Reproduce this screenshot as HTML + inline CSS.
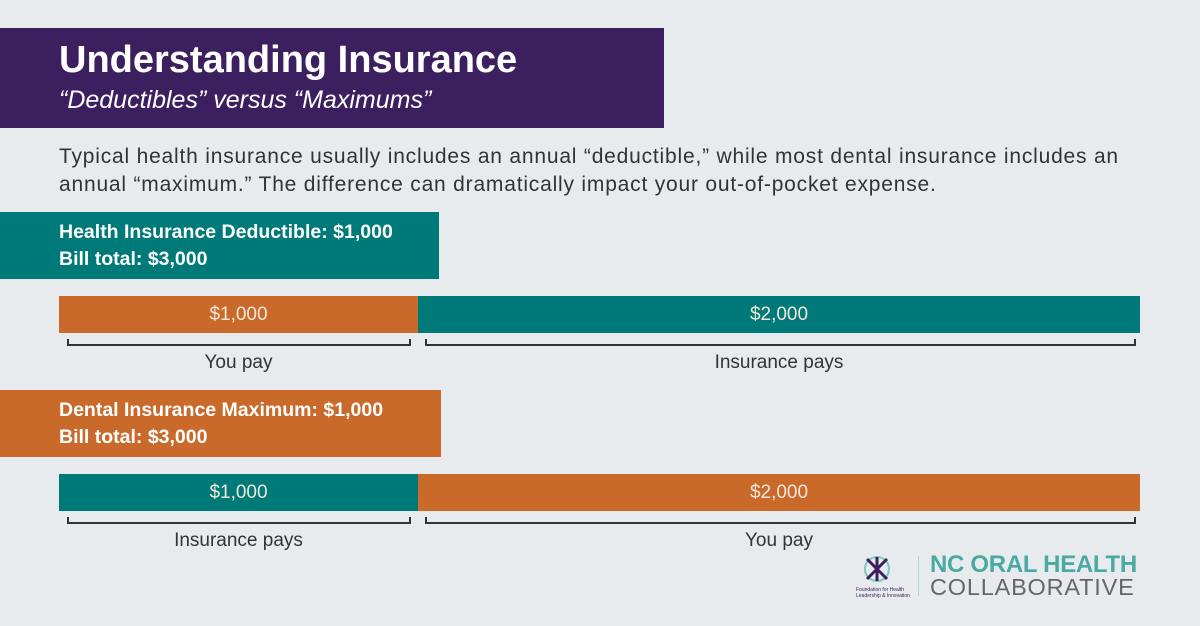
<!DOCTYPE html><html><head><style>
body{margin:0;width:1200px;height:626px;background:#e7ebee;position:relative;overflow:hidden;font-family:"Liberation Sans",sans-serif}
.a{position:absolute}
.bar{position:absolute;height:37px;color:#f3e6dc;font-size:19px;line-height:37px;text-align:center}
.br{position:absolute;height:5px;border:2px solid #333;border-top:none}
.lbl{position:absolute;font-size:19px;color:#333;text-align:center}
</style></head><body>
<div class="a" style="left:0;top:28px;width:664px;height:100px;background:#3b1f5f"></div>
<div class="a" style="left:59px;top:39px;font-size:38px;color:#fff;font-weight:bold">Understanding Insurance</div>
<div class="a" style="left:59px;top:86px;font-size:25px;color:#fff;font-style:italic">“Deductibles” versus “Maximums”</div>
<div class="a" style="left:59px;top:143px;font-size:21px;color:#333;line-height:28px;white-space:nowrap;letter-spacing:0.8px">Typical health insurance usually includes an annual “deductible,” while most dental insurance includes an<br>annual “maximum.” The difference can dramatically impact your out-of-pocket expense.</div>

<div class="a" style="left:0;top:212px;width:439px;height:67px;background:#007a78"></div>
<div class="a" style="left:59px;top:219px;font-size:19.5px;color:#fff;font-weight:bold;line-height:27px">Health Insurance Deductible: $1,000<br>Bill total: $3,000</div>
<div class="bar" style="left:59px;top:296px;width:359px;background:#c96a2b">$1,000</div>
<div class="bar" style="left:418px;top:296px;width:722px;background:#007a78">$2,000</div>
<div class="br" style="left:67px;top:339px;width:340px"></div>
<div class="br" style="left:425px;top:339px;width:707px"></div>
<div class="lbl" style="left:59px;width:359px;top:352px">You pay</div>
<div class="lbl" style="left:418px;width:722px;top:352px">Insurance pays</div>

<div class="a" style="left:0;top:390px;width:441px;height:67px;background:#c96a2b"></div>
<div class="a" style="left:59px;top:397px;font-size:19.5px;color:#fff;font-weight:bold;line-height:27px">Dental Insurance Maximum: $1,000<br>Bill total: $3,000</div>
<div class="bar" style="left:59px;top:474px;width:359px;background:#007a78">$1,000</div>
<div class="bar" style="left:418px;top:474px;width:722px;background:#c96a2b">$2,000</div>
<div class="br" style="left:67px;top:517px;width:340px"></div>
<div class="br" style="left:425px;top:517px;width:707px"></div>
<div class="lbl" style="left:59px;width:359px;top:530px">Insurance pays</div>
<div class="lbl" style="left:418px;width:722px;top:530px">You pay</div>

<svg class="a" style="left:862px;top:554px" width="30" height="30"><circle cx="15" cy="15" r="12" fill="none" stroke="#7cc9bd" stroke-width="2"/><path d="M5 5L25 25M25 5L5 25M15 3V27" stroke="#3b1f5f" stroke-width="3"/></svg>
<div class="a" style="left:856px;top:587px;font-size:5px;color:#3b1f5f;line-height:6px">Foundation for Health<br>Leadership &amp; Innovation</div>
<div class="a" style="left:918px;top:556px;width:1px;height:40px;background:#b8d8d4"></div>
<div class="a" style="left:930px;top:551px;font-size:24px;font-weight:bold;color:#4aa9a0;letter-spacing:-0.3px">NC ORAL HEALTH</div>
<div class="a" style="left:930px;top:574px;font-size:23.5px;color:#666;letter-spacing:0.8px">COLLABORATIVE</div>
</body></html>
